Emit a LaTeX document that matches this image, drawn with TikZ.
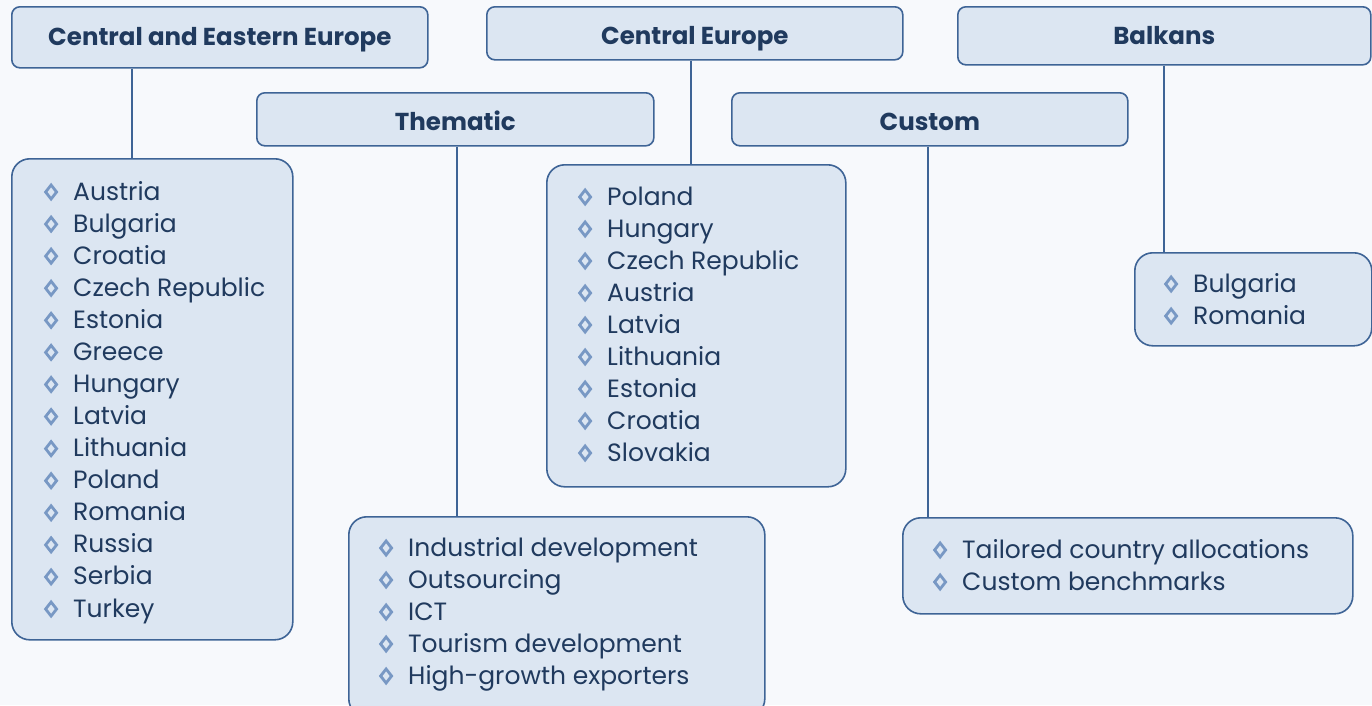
\documentclass[tikz,border=0pt]{standalone}
\usepackage{fontspec}
\setmainfont{Poppins}
\definecolor{bg}{HTML}{F7F9FC}
\definecolor{boxfill}{HTML}{DCE6F2}
\definecolor{edge}{HTML}{3E6496}
\definecolor{ink}{HTML}{203A5E}
\definecolor{bulc}{HTML}{7898C4}

% diamond bullet followed by the item text
\newcommand\bulmark{\tikz[baseline=0pt]\draw[bulc,line width=2.8pt,line join=miter] (0pt,1pt)--(5.5pt,8pt)--(0pt,15pt)--(-5.5pt,8pt)--cycle;}
\newcommand\itm[1]{\makebox[34pt][l]{\hspace*{5pt}\bulmark}#1}

\tikzset{
  hdr/.style={draw=edge, fill=boxfill, line width=1.6pt, rounded corners=8pt,
    anchor=north west, inner sep=0pt},
  hdrtext/.style={font=\fontsize{24.5}{28}\selectfont\bfseries, text=ink, inner sep=0pt,
    text height=17pt, text depth=0pt, anchor=center},
  listbox/.style={draw=edge, fill=boxfill, line width=1.6pt, rounded corners=18pt,
    anchor=north west, inner sep=0pt},
  item/.style={anchor=base west, inner sep=0pt, text=ink, font=\fontsize{25}{28}\selectfont},
  link/.style={draw=edge, line width=2pt}
}

\begin{document}
\begin{tikzpicture}[x=1pt,y=-1pt]
  \fill[bg] (0,0) rectangle (1372,705);
  \useasboundingbox (0,0) rectangle (1372,705);
  \clip (0,0) rectangle (1372,705);

  % x positions of the vertical links
  \coordinate (xcee) at (132,0);
  \coordinate (xthm) at (457,0);
  \coordinate (xce)  at (691,0);
  \coordinate (xcus) at (928,0);
  \coordinate (xbal) at (1164,0);

  % header boxes, titles set 30pt below the top edge
  \node[hdr, minimum width=416pt, minimum height=61pt] (ceeh) at (11,6)   {};
  \node[hdr, minimum width=416pt, minimum height=53pt] (ceh)  at (486,6)  {};
  \node[hdr, minimum width=413pt, minimum height=58pt] (balh) at (957,6)  {};
  \node[hdr, minimum width=397pt, minimum height=53pt] (thmh) at (256,92) {};
  \node[hdr, minimum width=396pt, minimum height=53pt] (cush) at (731,92) {};
  \node[hdrtext] (ceeh-t) at ([yshift=-31pt]ceeh.north) {Central and Eastern Europe};
  \node[hdrtext] (ceh-t)  at ([yshift=-30pt]ceh.north)  {Central Europe};
  \node[hdrtext] (balh-t) at ([yshift=-30pt]balh.north) {Balkans};
  \node[hdrtext] (thmh-t) at ([yshift=-30pt]thmh.north) {Thematic};
  \node[hdrtext] (cush-t) at ([yshift=-30pt]cush.north) {Custom};

  % list boxes
  \node[listbox, minimum width=281pt, minimum height=481pt] (ceel) at (11,158)  {};
  \node[listbox, minimum width=416pt, minimum height=200pt] (thml) at (348,516) {};
  \node[listbox, minimum width=299pt, minimum height=322pt] (cel)  at (546,164) {};
  \node[listbox, minimum width=237pt, minimum height=93pt]  (ball) at (1134,252) {};
  \node[listbox, minimum width=450pt, minimum height=96pt]  (cusl) at (902,517) {};

  % links
  \draw[link] (ceeh.south -| xcee) -- (ceel.north -| xcee);
  \draw[link] (thmh.south -| xthm) -- (thml.north -| xthm);
  \draw[link] (ceh.south -| xce)   -- (cel.north -| xce);
  \draw[link] (cush.south -| xcus) -- (cusl.north -| xcus);
  \draw[link] (balh.south -| xbal) -- (ball.north -| xbal);

  % items
  \foreach \t [count=\i from 0] in {Austria,Bulgaria,Croatia,Czech Republic,Estonia,Greece,Hungary,Latvia,Lithuania,Poland,Romania,Russia,Serbia,Turkey}
    \node[item] (cee-\i) at (39,200+32.08*\i) {\itm{\t}};
  \foreach \t [count=\i from 0] in {Industrial development,Outsourcing,ICT,Tourism development,High-growth exporters}
    \node[item] (thm-\i) at (374,556+32*\i) {\itm{\t}};
  \foreach \t [count=\i from 0] in {Poland,Hungary,Czech Republic,Austria,Latvia,Lithuania,Estonia,Croatia,Slovakia}
    \node[item] (ce-\i) at (573,205+32*\i) {\itm{\t}};
  \foreach \t [count=\i from 0] in {Bulgaria,Romania}
    \node[item] (bal-\i) at (1159,292+32*\i) {\itm{\t}};
  \foreach \t [count=\i from 0] in {Tailored country allocations,Custom benchmarks}
    \node[item] (cus-\i) at (928,558+32*\i) {\itm{\t}};
\end{tikzpicture}
\end{document}
